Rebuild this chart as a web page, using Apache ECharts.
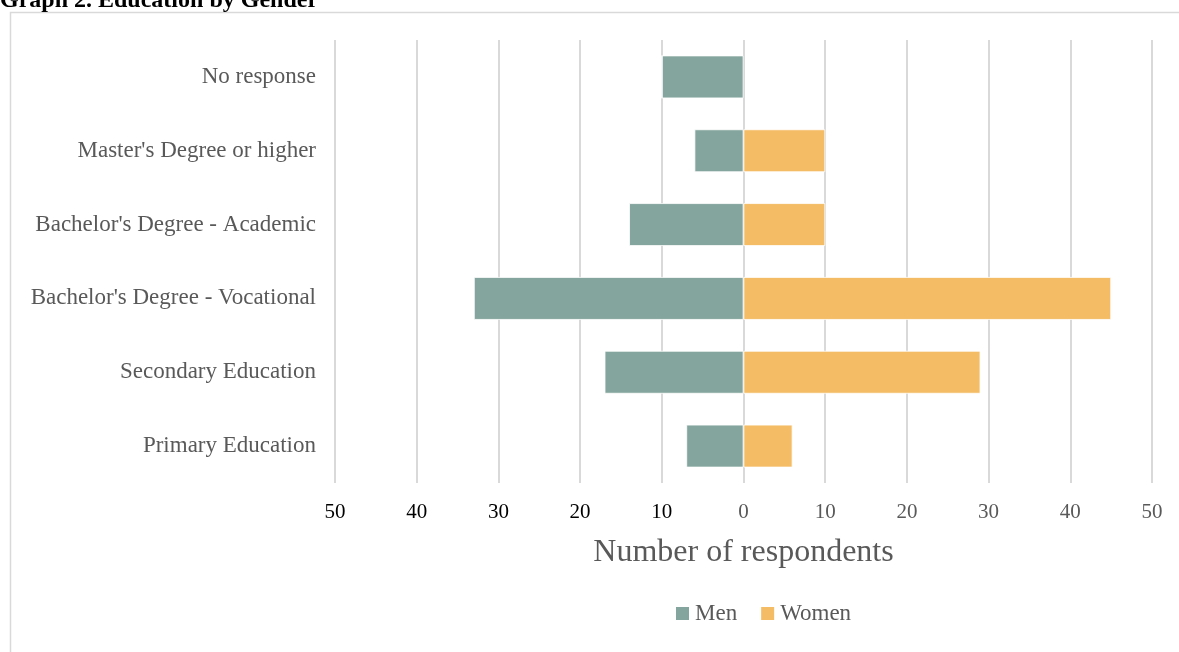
<!DOCTYPE html>
<html>
<head>
<meta charset="utf-8">
<style>
  html, body { margin: 0; padding: 0; background: #fff; }
  #chart { width: 1179px; height: 652px; }
</style>
<script src="https://cdn.jsdelivr.net/npm/echarts@6/dist/echarts.min.js"></script>
</head>
<body>
<div id="chart"></div>
<script>
// Education level categories, listed bottom to top
const categories = [
  'Primary Education',
  'Secondary Education',
  "Bachelor's Degree - Vocational",
  "Bachelor's Degree - Academic",
  "Master's Degree or higher",
  'No response'
];
// Respondent counts per category
const men   = [7, 17, 33, 14, 6, 10];
const women = [6, 29, 45, 10, 10, 0];
const tickMin = -50;
const tickMax = 50;
const tickStep = 10;

const FONT = '"Liberation Serif", "DejaVu Serif", serif';
const GREY = '#595959';

const chart = echarts.init(document.getElementById('chart'));
chart.setOption({
  animation: false,
  backgroundColor: '#ffffff',
  textStyle: { fontFamily: FONT },
  graphic: [
    {
      type: 'rect',
      shape: { x: 10.5, y: 12.5, width: 1300, height: 800 },
      style: { fill: 'none', stroke: '#d9d9d9', lineWidth: 1.5 },
      silent: true
    },
    {
      type: 'text',
      left: 0,
      top: -11,
      style: {
        text: 'Graph 2. Education by Gender',
        font: 'bold 24px ' + FONT,
        fill: '#000000'
      }
    }
  ],
  grid: { left: 335, right: 27, top: 40, bottom: 169, containLabel: false },
  legend: {
    bottom: 22,
    left: 669,
    itemWidth: 15,
    itemHeight: 15,
    itemGap: 22,
    icon: 'rect',
    textStyle: { fontFamily: FONT, fontSize: 23, color: GREY },
    data: ['Men', 'Women']
  },
  xAxis: {
    type: 'value',
    min: tickMin,
    max: tickMax,
    interval: tickStep,
    name: 'Number of respondents',
    nameLocation: 'middle',
    nameGap: 54,
    nameTextStyle: { fontFamily: FONT, fontSize: 32, color: GREY },
    axisLine: { show: false },
    axisTick: { show: false },
    axisLabel: {
      margin: 19,
      fontFamily: FONT,
      fontSize: 21,
      formatter: v => v < 0 ? '{neg|' + Math.abs(v) + '}' : '{pos|' + v + '}',
      rich: {
        neg: { color: '#000000', fontFamily: FONT, fontSize: 21 },
        pos: { color: GREY, fontFamily: FONT, fontSize: 21 }
      }
    },
    splitLine: { show: true, lineStyle: { color: '#d9d9d9', width: 2 } }
  },
  yAxis: {
    type: 'category',
    data: categories,
    axisLine: { show: false },
    axisTick: { show: false },
    axisLabel: { margin: 19, fontFamily: FONT, fontSize: 23, color: GREY, padding: [4, 0, 0, 0] }
  },
  series: [
    {
      name: 'Men',
      type: 'bar',
      stack: 'total',
      barCategoryGap: '42%',
      itemStyle: { color: '#84a59d', borderColor: '#ffffff', borderWidth: 0.8 },
      data: men.map(v => -v)
    },
    {
      name: 'Women',
      type: 'bar',
      stack: 'total',
      barCategoryGap: '42%',
      itemStyle: { color: '#f4bc64', borderColor: '#ffffff', borderWidth: 0.8 },
      data: women
    }
  ]
});
</script>
</body>
</html>
